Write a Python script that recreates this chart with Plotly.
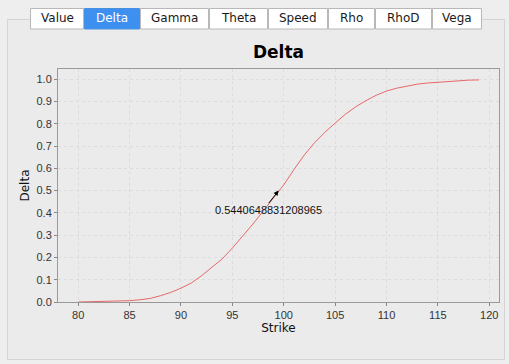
import plotly.graph_objects as go

# ---- data ----
strikes = list(range(80, 120))
delta = [0.000, 0.001, 0.002, 0.003, 0.004, 0.006, 0.010, 0.016, 0.028, 0.043,
         0.062, 0.085, 0.118, 0.155, 0.193, 0.242, 0.295, 0.350, 0.408, 0.468,
         0.526, 0.595, 0.660, 0.715, 0.762, 0.803, 0.843, 0.876, 0.904, 0.928,
         0.947, 0.960, 0.970, 0.978, 0.983, 0.987, 0.991, 0.994, 0.996, 0.997]
annot_value = 0.5440648831208965
annot_x = 99.5
annot_y = 0.50
x_ticks = [80, 85, 90, 95, 100, 105, 110, 115, 120]
y_ticks = [round(i * 0.1, 1) for i in range(11)]
tabs = ["Value", "Delta", "Gamma", "Theta", "Speed", "Rho", "RhoD", "Vega"]
tab_edges = [30, 84, 140, 209, 268, 328, 375, 432, 482]
selected_tab = "Delta"

W, H = 509, 364
L, R, T, B = 58, 499, 69, 302
FONT = "DejaVu Sans"
TFONT = "Liberation Sans"

def px(x):
    return (x - L) / (R - L)

def py(y):
    return (B - y) / (B - T)

fig = go.Figure()
fig.add_trace(go.Scatter(x=strikes, y=delta, mode="lines",
                         line=dict(color="rgb(232,104,104)", width=1),
                         hoverinfo="x+y", showlegend=False))

shapes = []
# outer panel
shapes.append(dict(type="rect", xref="paper", yref="paper",
                   x0=px(7.5), x1=px(504.5), y0=py(359.5), y1=py(19.5),
                   line=dict(color="#d4d4d4", width=1), fillcolor="#ebebeb", layer="below"))
# tabs
annotations = []
for i, name in enumerate(tabs):
    x0, x1 = tab_edges[i], tab_edges[i + 1]
    sel = name == selected_tab
    shapes.append(dict(type="rect", xref="paper", yref="paper",
                       x0=px(x0 + 0.5), x1=px(x1 - 0.5), y0=py(29), y1=py(8.5),
                       line=dict(color="#b8b8b8" if not sel else "#4a90e0", width=1),
                       fillcolor="#3d8ff0" if sel else "#ffffff", layer="below"))
    annotations.append(dict(xref="paper", yref="paper", x=px((x0 + x1) / 2), y=py(18.5),
                            text=name, showarrow=False, xanchor="center", yanchor="middle",
                            font=dict(family=FONT, size=12, color="#ffffff" if sel else "#1a1a1a")))

# pointer annotation: arrow and label
annotations.append(dict(x=annot_x, y=annot_y, xref="x", yref="y", text="",
                        showarrow=True, arrowhead=2, arrowsize=1, arrowwidth=1,
                        arrowcolor="#000000", ax=-11, ay=14, axref="pixel", ayref="pixel"))
annotations.append(dict(x=annot_x, y=annot_y, xref="x", yref="y", text=str(annot_value),
                        showarrow=False, xshift=-10, yshift=-19,
                        font=dict(family=TFONT, size=11, color="#111111")))

fig.update_layout(
    width=W, height=H,
    margin=dict(l=L, r=W - R, t=T, b=H - B, pad=0),
    paper_bgcolor="#eeeeee", plot_bgcolor="#ffffff",
    title=dict(text="<b>Delta</b>", x=0.5, xref="paper", xanchor="center",
               y=1 - 52 / H, yanchor="middle",
               font=dict(family=FONT, size=17, color="#000000")),
    shapes=shapes, annotations=annotations,
    font=dict(family=TFONT, size=11, color="#333333"),
)
fig.update_xaxes(range=[78.03, 120.95], tickvals=x_ticks, ticktext=[str(v) for v in x_ticks],
                 showgrid=True, gridcolor="#dcdcdc", griddash="3px,3px", gridwidth=1,
                 showline=True, linecolor="#999999", mirror=True, linewidth=1,
                 ticks="outside", ticklen=3, tickcolor="#888888", zeroline=False,
                 tickfont=dict(family=TFONT, size=11, color="#333333"),
                 title=dict(text="Strike", standoff=3, font=dict(family=FONT, size=12, color="#111111")))
fig.update_yaxes(range=[0, 1.046], tickvals=y_ticks, ticktext=[f"{v:.1f}" for v in y_ticks],
                 showgrid=True, gridcolor="#dcdcdc", griddash="3px,3px", gridwidth=1,
                 showline=True, linecolor="#999999", mirror=True, linewidth=1,
                 ticks="outside", ticklen=3, tickcolor="#888888", zeroline=False,
                 tickfont=dict(family=TFONT, size=11, color="#333333"),
                 title=dict(text="Delta", standoff=4, font=dict(family=FONT, size=12, color="#111111")))

fig.write_html("out.html", config={"displayModeBar": False},
               post_script="document.body.style.margin='0px';document.body.style.padding='0px';document.body.style.background='#eeeeee';")
